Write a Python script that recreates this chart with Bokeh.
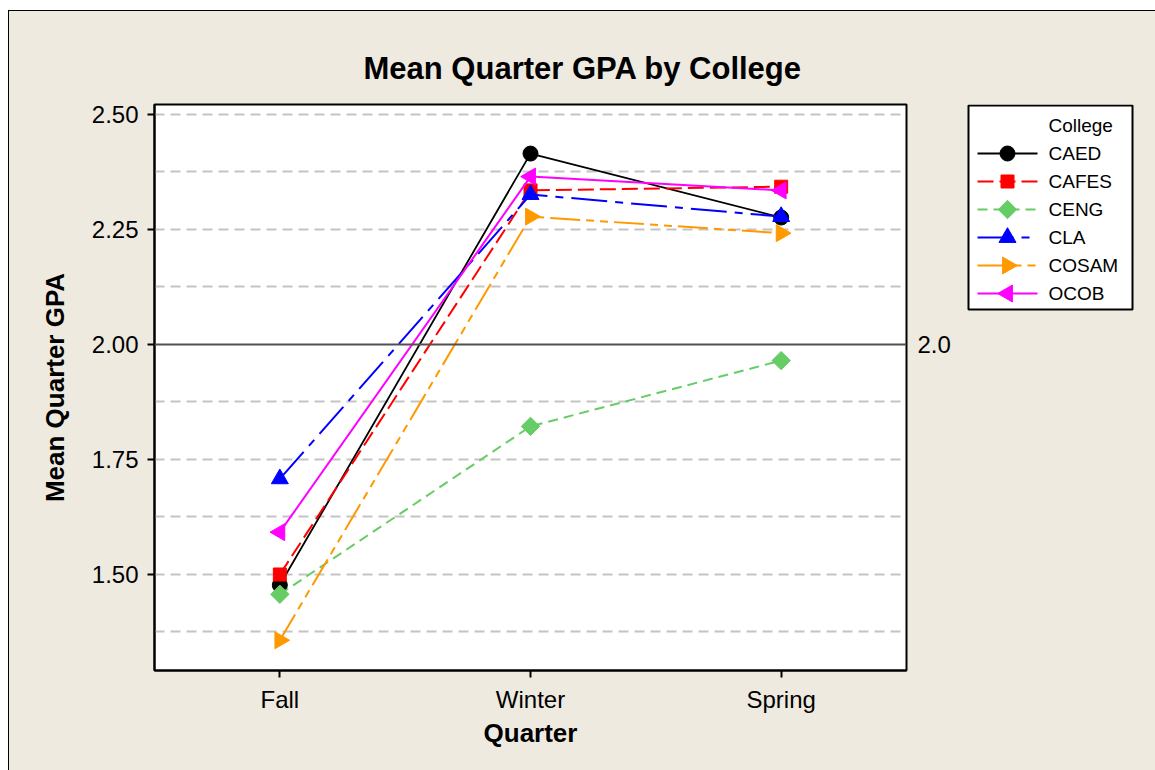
import math
from bokeh.plotting import figure
from bokeh.layouts import row
from bokeh.models import (FactorRange, Range1d, FixedTicker, PrintfTickFormatter, Span)
from bokeh.core.properties import value
from bokeh.embed import file_html
from bokeh.resources import INLINE

quarters = ["Fall", "Winter", "Spring"]
colleges = ["CAED", "CAFES", "CENG", "CLA", "COSAM", "OCOB"]
caed = [1.477, 2.415, 2.276]
cafes = [1.500, 2.335, 2.343]
ceng = [1.457, 1.822, 1.965]
cla = [1.708, 2.326, 2.278]
cosam = [1.357, 2.278, 2.242]
ocob = [1.592, 2.365, 2.335]
y_ticks = [1.50, 1.75, 2.00, 2.25, 2.50]
grid_ticks = [1.375, 1.50, 1.625, 1.75, 1.875, 2.125, 2.25, 2.375, 2.50]
ref_value = 2.0
ref_text = "2.0"
legend_title = "College"

series = [caed, cafes, ceng, cla, cosam, ocob]
colors = ["#000000", "#FF0000", "#66CC66", "#0000FF", "#FF9900", "#FF00FF"]
dashes = ["solid", "16 6", "10 6", "36 8 8 8", "30 6 8 6 8 6", "solid"]
markers = ["circle", "square", "square", "triangle", "triangle", "triangle"]
angles = [0, 0, math.pi / 4, 0, -math.pi / 2, math.pi / 2]
sizes = [15, 13, 13, 17, 17, 17]
widths = [1.8, 2, 2, 2, 2, 2]

BG = "#EEEAE0"
FONT = "Liberation Sans"
H = 759
BT, BB = 93, 100          # top / bottom borders (shared so frames align)
FRAME_H = H - BT - BB
PW = 899                  # main plot width (frame 752 + left 145 + right 2)
QW = 1146 - PW            # side panel width

# ---------------- main plot ----------------
p = figure(width=PW, height=H, output_backend="svg", toolbar_location=None,
           x_range=FactorRange(*quarters, range_padding=0),
           y_range=Range1d(1.2913, 2.5217),
           min_border_left=145, min_border_right=2,
           min_border_top=BT, min_border_bottom=BB,
           background_fill_color="white", border_fill_color=BG,
           outline_line_color="black", outline_line_width=2)

p.title.text = "Mean Quarter GPA by College"
p.title.align = "left"
p.title.offset = 209
p.title.text_font = FONT
p.title.text_font_size = "31px"
p.title.text_font_style = "bold"
p.title.text_color = "black"
p.title.standoff = 38

p.xgrid.visible = False
p.ygrid.ticker = FixedTicker(ticks=grid_ticks)
p.ygrid.grid_line_color = "#C4C4C4"
p.ygrid.grid_line_width = 2
p.ygrid.grid_line_dash = "10 6"

for ax in (p.xaxis[0], p.yaxis[0]):
    ax.axis_line_color = "black"
    ax.axis_line_width = 2
    ax.major_tick_line_color = "black"
    ax.major_tick_line_width = 2
    ax.major_tick_out = 7
    ax.major_tick_in = 0
    ax.minor_tick_line_color = None
    ax.major_label_text_font = FONT
    ax.major_label_text_font_size = "24px"
    ax.major_label_text_color = "black"
    ax.axis_label_text_font = FONT
    ax.axis_label_text_font_size = "26px"
    ax.axis_label_text_font_style = "bold"
    ax.axis_label_text_color = "black"

p.yaxis.ticker = FixedTicker(ticks=y_ticks)
p.yaxis.formatter = PrintfTickFormatter(format="%.2f")
p.yaxis.axis_label = "Mean Quarter GPA"
p.yaxis.major_label_standoff = 9
p.yaxis.axis_label_standoff = 19
p.xaxis.axis_label = "Quarter"
p.xaxis.major_label_standoff = 8
p.xaxis.axis_label_standoff = 2

p.add_layout(Span(location=ref_value, dimension="width", line_color="#505050", line_width=2))

for name, vals, c, d, m, a, s, w in zip(colleges, series, colors, dashes, markers, angles, sizes, widths):
    p.line(x=quarters, y=vals, line_color=c, line_width=w, line_dash=d)
    p.scatter(x=quarters, y=vals, marker=m, angle=a, size=s, fill_color=c, line_color=c)

# ---------------- side panel: reference label + legend ----------------
# shares the GPA y-range with the main plot; legend uses a pixel-like extra range
LX0 = 60  # legend box starts 60px right of this panel's left edge
q = figure(width=QW, height=H, output_backend="svg", toolbar_location=None,
           x_range=Range1d(-LX0, QW - LX0), y_range=p.y_range,
           x_axis_type=None, y_axis_type=None,
           min_border_left=0, min_border_right=0,
           min_border_top=BT, min_border_bottom=BB,
           background_fill_color=BG, border_fill_color=BG,
           outline_line_color=None)
q.grid.visible = False
q.extra_y_ranges = {"px": Range1d(FRAME_H, 0)}

q.text(x=[-51], y=[ref_value], text=[ref_text], text_baseline="middle",
       text_font=value(FONT), text_font_size="24px", text_color="black")

BOX_W, BOX_H, ROW0, PITCH = 164, 205, 21, 28
q.quad(left=[0], right=[BOX_W], top=[1], bottom=[BOX_H], fill_color="white",
       line_color="black", line_width=2, y_range_name="px")

GX0, GX1, TX = 9, 69, 80
q.text(x=[TX], y=[ROW0], text=[legend_title], text_baseline="middle",
       text_font=value(FONT), text_font_size="19px", text_color="black", y_range_name="px")
for i, (name, c, d, m, a, s, w) in enumerate(zip(colleges, colors, dashes, markers, angles, sizes, widths)):
    yy = ROW0 + PITCH * (i + 1)
    q.line(x=[GX0, GX1], y=[yy, yy], line_color=c, line_width=w, line_dash=d, y_range_name="px")
    q.scatter(x=[(GX0 + GX1) / 2], y=[yy], marker=m, angle=a, size=s,
              fill_color=c, line_color=c, y_range_name="px")
    q.text(x=[TX], y=[yy], text=[name], text_baseline="middle",
           text_font=value(FONT), text_font_size="19px", text_color="black", y_range_name="px")

layout = row(p, q, spacing=0)
layout.margin = (10, 0, 0, 8)
layout.styles = {"border-left": "1px solid black", "border-top": "1px solid black",
                 "background-color": BG}

open("out.html", "w").write(file_html(layout, INLINE))
